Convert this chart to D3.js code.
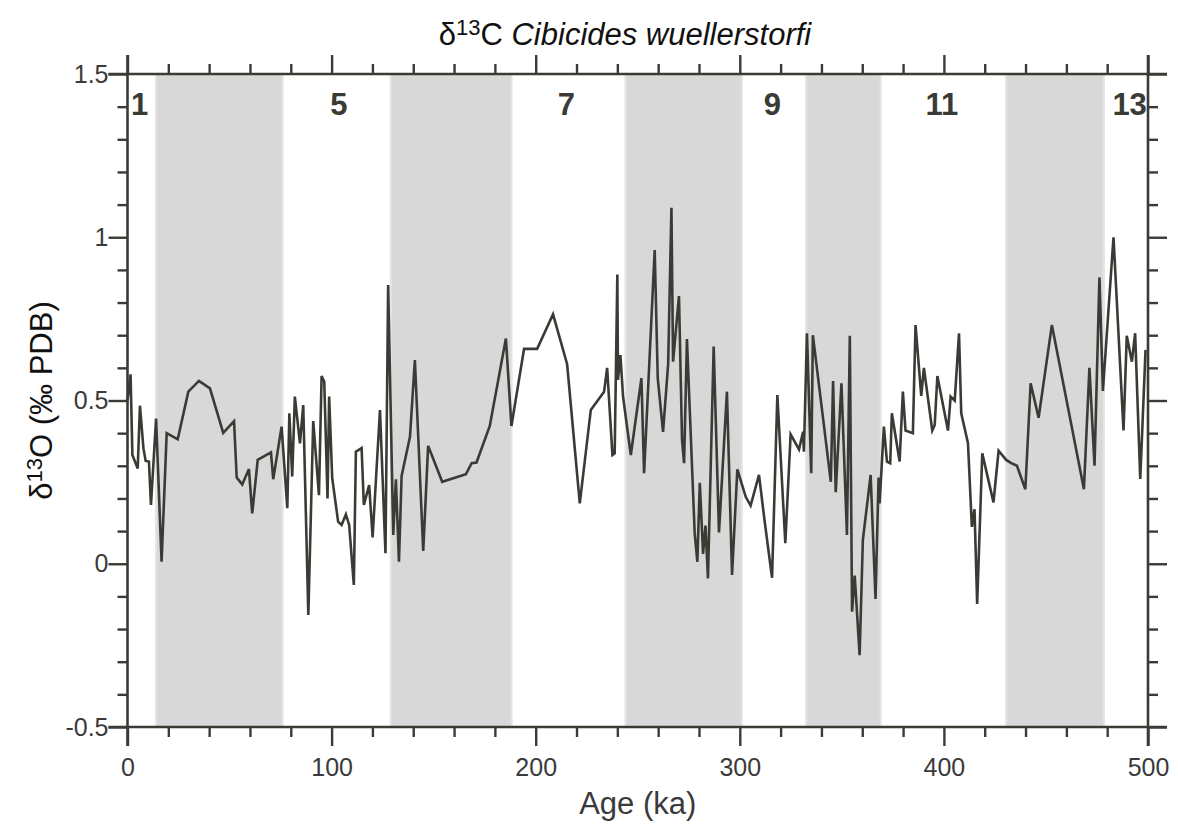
<!DOCTYPE html>
<html>
<head>
<meta charset="utf-8">
<script src="https://cdn.jsdelivr.net/npm/d3@7"></script>
<style>
  body { margin: 0; background: #fff; }
  svg { display: block; font-family: "Liberation Sans", Arial, Helvetica, sans-serif; }
</style>
</head>
<body>
<div id="chart"></div>
<script>
// Age (ka) and d13C values
const ages = [0, 1.5, 2.4, 5, 6.1, 7.8, 8.9, 10.5, 11.5, 14, 16.7, 19.2, 24.6, 29.8, 35, 40.4, 46.9, 52.2, 53.5, 56.2,
  59.5, 61.1, 63.8, 70.3, 71.4, 75.5, 78.3, 79.3, 80.7, 82, 84.5, 86.1, 88.6, 91, 93.8, 95.1, 96.4, 98, 98.8, 100.3,
  103.2, 104.9, 107, 108.6, 110.9, 111.9, 114.7, 115.8, 118.4, 120.1, 123.7, 126.4, 127.7, 130.2, 131.5, 133, 134.3, 138.4, 140.8, 144.9,
  147.3, 154.2, 165.8, 168.6, 171, 177.5, 185.4, 188.1, 194.3, 200.7, 208.5, 215.4, 221.6, 227, 233.5, 235, 237.6, 238.7, 240, 240.3,
  241.5, 242.8, 246.6, 251.8, 253.1, 258.3, 259.8, 262.4, 264.9, 266.5, 267.3, 270.2, 271.7, 272.7, 274.1, 277.9, 279.2, 280.4, 282, 283.2,
  284.4, 287.2, 289.8, 293.7, 296.2, 298.8, 302.9, 305.3, 309.4, 312.2, 315.8, 318.4, 322.3, 324.9, 329, 331, 331.4, 332.9, 335, 335.8,
  344.6, 345.7, 347, 349.8, 352.5, 353.9, 355, 356.3, 358.7, 360.3, 364.1, 366.5, 368, 368.5, 370.6, 372.1, 373.7, 374.5, 378.3, 379.9,
  381.2, 384.8, 386.1, 388.9, 390.2, 394.3, 395.5, 396.8, 402, 403.3, 405.3, 407.4, 408.5, 411.8, 413.7, 415, 416.3, 418.8, 424.3, 426.8,
  430.5, 433, 435.8, 439.9, 442.5, 446.4, 452.9, 468.6, 471.3, 473.8, 476.2, 477.9, 483.1, 488, 489.6, 492.1, 493.7, 496.2, 498.8];
const d13C = [0.50, 0.58, 0.333, 0.292, 0.484, 0.354, 0.315, 0.313, 0.18, 0.445, 0.006, 0.40, 0.381, 0.527, 0.56, 0.537, 0.401, 0.437, 0.264, 0.243,
  0.29, 0.154, 0.318, 0.341, 0.259, 0.42, 0.17, 0.461, 0.267, 0.512, 0.369, 0.486, -0.157, 0.437, 0.21, 0.575, 0.558, 0.20, 0.512, 0.262,
  0.129, 0.119, 0.151, 0.119, -0.065, 0.343, 0.354, 0.18, 0.241, 0.081, 0.471, 0.032, 0.854, 0.088, 0.259, 0.006, 0.269, 0.389, 0.624, 0.039,
  0.361, 0.251, 0.274, 0.308, 0.31, 0.422, 0.69, 0.422, 0.658, 0.658, 0.764, 0.611, 0.185, 0.471, 0.527, 0.60, 0.333, 0.338, 0.886, 0.563,
  0.639, 0.512, 0.333, 0.568, 0.277, 0.961, 0.568, 0.404, 0.612, 1.09, 0.619, 0.82, 0.379, 0.308, 0.688, 0.093, 0.006, 0.248, 0.03, 0.117,
  -0.045, 0.665, 0.096, 0.527, -0.034, 0.289, 0.205, 0.178, 0.272, 0.129, -0.043, 0.517, 0.063, 0.396, 0.35, 0.404, 0.343, 0.706, 0.277, 0.70,
  0.251, 0.56, 0.219, 0.553, 0.088, 0.698, -0.147, -0.036, -0.28, 0.073, 0.272, -0.108, 0.264, 0.185, 0.42, 0.313, 0.308, 0.461, 0.313, 0.527,
  0.408, 0.40, 0.731, 0.514, 0.60, 0.408, 0.425, 0.575, 0.408, 0.512, 0.50, 0.706, 0.461, 0.369, 0.113, 0.167, -0.123, 0.338, 0.188, 0.346,
  0.318, 0.308, 0.30, 0.228, 0.553, 0.447, 0.731, 0.228, 0.60, 0.30, 0.877, 0.529, 1.0, 0.408, 0.698, 0.619, 0.706, 0.26, 0.655];

// Glacial stages (shaded) and interglacial stage numbers
const bandStart = [14, 129, 244, 332.5, 430.5];
const bandEnd = [76, 188.2, 301, 369, 478.4];
const stageLabels = ["1", "5", "7", "9", "11", "13"];
const stageAges = [6, 103.6, 215, 316, 399, 491];

const xTicks = [0, 100, 200, 300, 400, 500];
const yTicks = [-0.5, 0, 0.5, 1, 1.5];

const width = 1178, height = 837;
const margin = { left: 127.5, right: 30, top: 74, bottom: 110 };
const ink = "#3b3b36";

const svg = d3.select("#chart").append("svg")
  .attr("width", width)
  .attr("height", height);

const x = d3.scaleLinear().domain([0, 500]).range([margin.left, width - margin.right]);
const y = d3.scaleLinear().domain([-0.5, 1.5]).range([height - margin.bottom, margin.top]);

const x0 = x.range()[0], x1 = x.range()[1];
const y0 = y.range()[0], y1 = y.range()[1];

// Shaded bands
svg.append("g")
  .selectAll("rect")
  .data(bandStart.map((s, i) => [s, bandEnd[i]]))
  .join("rect")
  .attr("x", d => x(d[0]))
  .attr("y", y1)
  .attr("width", d => x(d[1]) - x(d[0]))
  .attr("height", y0 - y1)
  .attr("fill", "#d8d8d8")
  .attr("stroke", "#e4e4e4")
  .attr("stroke-width", 2);

// Stage numbers
svg.append("g")
  .selectAll("text")
  .data(stageLabels)
  .join("text")
  .attr("x", (d, i) => x(stageAges[i]))
  .attr("y", y1 + 41)
  .attr("text-anchor", "middle")
  .attr("font-size", 31)
  .attr("font-weight", "bold")
  .attr("fill", ink)
  .text(d => d);

// Data line
const line = d3.line()
  .x((d, i) => x(ages[i]))
  .y(d => y(d));

svg.append("path")
  .datum(d13C)
  .attr("fill", "none")
  .attr("stroke", ink)
  .attr("stroke-width", 2.6)
  .attr("d", line);

// Axes: major + minor ticks, all pointing outward
const major = 19, minor = 10;
const minorX = d3.range(0, 501, 20).filter(v => v % 100 !== 0);
const minorY = d3.range(-5, 16).map(v => v / 10).filter(v => Math.abs(v * 2 - Math.round(v * 2)) > 1e-6);

function styleAxis(g) {
  g.select(".domain").remove();
  g.selectAll(".tick line").attr("stroke", ink).attr("stroke-width", 2.4);
  g.selectAll(".tick text").attr("fill", "#3a3a3a").attr("font-size", 25)
    .attr("font-family", "Liberation Sans, Arial, Helvetica, sans-serif");
}

svg.append("g").attr("transform", `translate(0,${y0})`)
  .call(d3.axisBottom(x).tickValues(xTicks).tickSize(major).tickPadding(12).tickFormat(d3.format("d")))
  .call(styleAxis);
svg.append("g").attr("transform", `translate(0,${y0})`)
  .call(d3.axisBottom(x).tickValues(minorX).tickSize(minor).tickFormat(""))
  .call(styleAxis);
svg.append("g").attr("transform", `translate(0,${y1})`)
  .call(d3.axisTop(x).tickValues(xTicks).tickSize(major).tickFormat(""))
  .call(styleAxis);
svg.append("g").attr("transform", `translate(0,${y1})`)
  .call(d3.axisTop(x).tickValues(minorX).tickSize(minor).tickFormat(""))
  .call(styleAxis);

svg.append("g").attr("transform", `translate(${x0},0)`)
  .call(d3.axisLeft(y).tickValues(yTicks).tickSize(major).tickPadding(0).tickFormat(d => String(d)))
  .call(styleAxis);
svg.append("g").attr("transform", `translate(${x0},0)`)
  .call(d3.axisLeft(y).tickValues(minorY).tickSize(minor).tickFormat(""))
  .call(styleAxis);
svg.append("g").attr("transform", `translate(${x1},0)`)
  .call(d3.axisRight(y).tickValues(yTicks).tickSize(major).tickFormat(""))
  .call(styleAxis);
svg.append("g").attr("transform", `translate(${x1},0)`)
  .call(d3.axisRight(y).tickValues(minorY).tickSize(minor).tickFormat(""))
  .call(styleAxis);

// Frame lines, extended by the tick length like the original
const frame = svg.append("g").attr("stroke", ink).attr("stroke-width", 2.6);
frame.append("line").attr("x1", x0 - major).attr("x2", x1 + major).attr("y1", y0).attr("y2", y0);
frame.append("line").attr("x1", x0 - major).attr("x2", x1 + major).attr("y1", y1).attr("y2", y1);
frame.append("line").attr("x1", x0).attr("x2", x0).attr("y1", y1 - major).attr("y2", y0 + major);
frame.append("line").attr("x1", x1).attr("x2", x1).attr("y1", y1 - major).attr("y2", y0 + major);

// Title
const title = svg.append("text")
  .attr("x", 625)
  .attr("y", 45)
  .attr("text-anchor", "middle")
  .attr("font-size", 31)
  .attr("fill", "#111");
title.append("tspan").text("δ");
title.append("tspan").attr("dy", -10).attr("font-size", 22).text("13");
title.append("tspan").attr("dy", 10).text("C ");
title.append("tspan").attr("font-style", "italic").text("Cibicides wuellerstorfi");

// Axis titles
svg.append("text")
  .attr("x", (x0 + x1) / 2)
  .attr("y", 814)
  .attr("text-anchor", "middle")
  .attr("font-size", 31)
  .attr("fill", "#3a3a3a")
  .text("Age (ka)");

const yTitle = svg.append("text")
  .attr("transform", `translate(52,${(y0 + y1) / 2}) rotate(-90)`)
  .attr("text-anchor", "middle")
  .attr("font-size", 31)
  .attr("fill", "#111");
yTitle.append("tspan").text("δ");
yTitle.append("tspan").attr("dy", -10).attr("font-size", 22).text("13");
yTitle.append("tspan").attr("dy", 10).text("O (‰ PDB)");
</script>
</body>
</html>
